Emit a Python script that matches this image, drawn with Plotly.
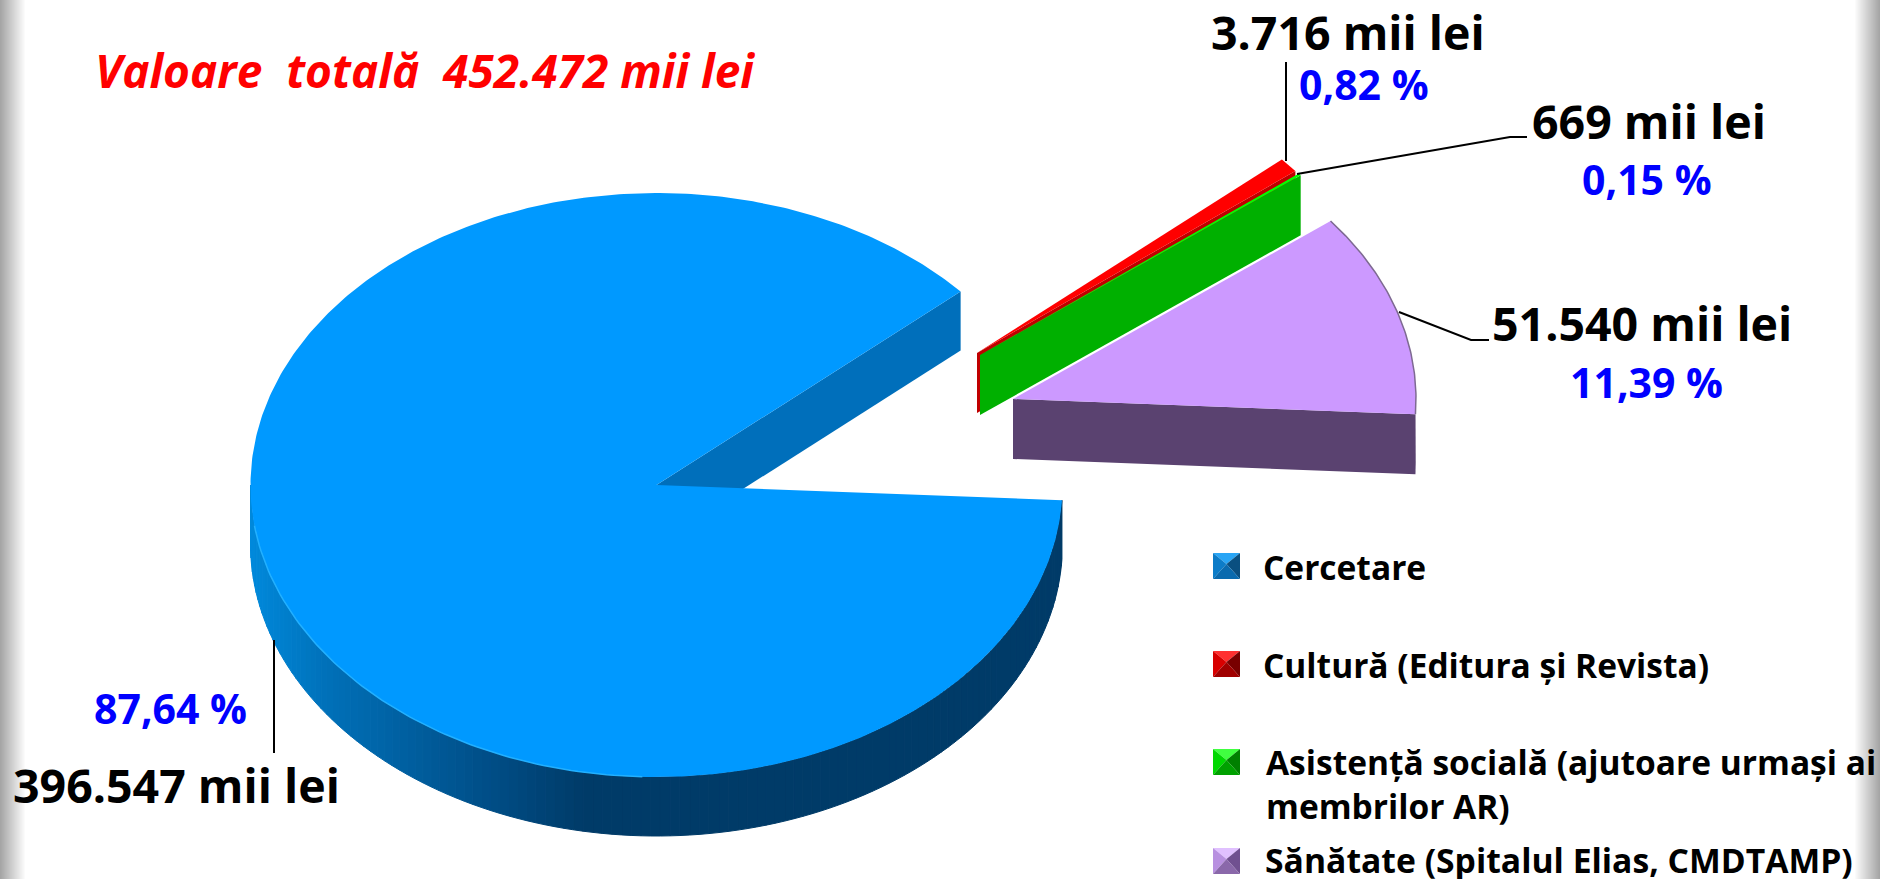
import numpy as np
import plotly.graph_objects as go

# --- data ---
categories = ["Cercetare", "Cultură (Editura și Revista)",
              "Asistență socială (ajutoare urmași ai<br>membrilor AR)",
              "Sănătate (Spitalul Elias, CMDTAMP)"]
values = [396547, 3716, 669, 51540]
percent_labels = ["87,64 %", "0,82 %", "0,15 %", "11,39 %"]
title_text = "Valoare\u00a0 totală\u00a0 452.472 mii lei"

# --- styling / layout ---
W, H = 1880, 879
top_colors = ["#0099FF", "#FF0000", "#00FF00", "#CC99FF"]
wall_colors = ["#006FBB", "#C00000", "#00B000", "#5A4270"]
marker_faces = [("#29A5F5", "#0C7CC8", "#0A4F80", "#0A6AAE"),
                ("#FF3030", "#D80000", "#780000", "#A00000"),
                ("#40FF40", "#00D800", "#008000", "#00A000"),
                ("#E0C0FF", "#B890E0", "#705090", "#8A68AA")]
# centre x, centre y, x radius, y radius, depth of each exploded slice
centres = [(656.5, 485, 406, 292, 59), (977, 353, 407, 292, 60), (980, 355, 407, 292, 60), (1013, 399, 403, 289, 60)]
START = 93.0
FONT = "Open Sans"

grad_stops = [(250, (0, 138, 220)), (330, (0, 112, 184)), (480, (0, 80, 138)),
              (585, (0, 59, 104)), (1070, (0, 59, 104))]

fracs = np.array(values) / sum(values)
sweeps = fracs * 360.0
starts = START + np.concatenate(([0], np.cumsum(sweeps)[:-1]))
ends = starts + sweeps


def pt(c, theta):
    t = np.radians(theta)
    return c[0] + c[2] * np.sin(t), c[1] - c[3] * np.cos(t)


fig = go.Figure()


def poly(xs, ys, color, name, lw=0, lc=None):
    fig.add_trace(go.Scatter(x=list(xs), y=list(ys), mode="lines", fill="toself",
                             fillcolor=color, name=name, hoverinfo="name",
                             line=dict(color=lc or color, width=lw), showlegend=False))


def arc(c, t0, t1, n):
    x, y = pt(c, np.linspace(t0, t1, n))
    return x, y


def radial_wall(c, theta, color, name):
    ex, ey = pt(c, theta)
    poly([c[0], ex, ex, c[0], c[0]],
         [c[1], ey, ey + c[4], c[1] + c[4], c[1]], color, name)


def top_face(c, t0, t1, color, name, n=240, lw=0, lc=None):
    x, y = arc(c, t0, t1, n)
    poly(np.r_[c[0], x, c[0]], np.r_[c[1], y, c[1]], color, name, lw, lc)


def grad_color(x):
    xs = [s[0] for s in grad_stops]
    rgb = [np.interp(x, xs, [s[1][i] for s in grad_stops]) for i in range(3)]
    return "rgb(%d,%d,%d)" % tuple(int(v) for v in rgb)


# main slice
c = centres[0]
# curved outer wall with a horizontal gradient, built of short segments
wall_t = np.linspace(starts[0], 270.0, 130)
for t0, t1 in zip(wall_t[:-1], wall_t[1:]):
    x0, y0 = pt(c, t0)
    x1, y1 = pt(c, t1)
    col = grad_color((x0 + x1) / 2)
    poly([x0, x1, x1, x0, x0], [y0, y1, y1 + c[4], y0 + c[4], y0], col, categories[0], 1, col)
radial_wall(c, ends[0], wall_colors[0], categories[0])
top_face(c, starts[0], ends[0], top_colors[0], categories[0], n=500)
# bright rim on the lower left of the main slice
hx, hy = arc(c, 182, 262, 80)
fig.add_trace(go.Scatter(x=hx, y=hy, mode="lines", line=dict(color="#22B0FF", width=1.5),
                         hoverinfo="skip", showlegend=False))

# small slices, furthest first
radial_wall(centres[1], ends[1], wall_colors[1], categories[1])
top_face(centres[1], starts[1], ends[1], top_colors[1], categories[1], n=12)
radial_wall(centres[2], ends[2], wall_colors[2], categories[2])
top_face(centres[2], starts[2], ends[2], top_colors[2], categories[2], n=6)

# purple slice: ends[3] is the front radial edge, one full turn after START
c = centres[3]
radial_wall(c, ends[3], wall_colors[3], categories[3])
x, y = arc(c, 90, START, 8)
poly(np.r_[x, x[::-1], x[0]], np.r_[y, y[::-1] + c[4], y[0]], wall_colors[3], categories[3])
top_face(c, starts[3], ends[3], top_colors[3], categories[3], n=80)
x, y = arc(c, starts[3], ends[3], 80)
fig.add_trace(go.Scatter(x=x, y=y, mode="lines", line=dict(color="#7E6A92", width=1.5),
                         hoverinfo="skip", showlegend=False))

# leader lines
leaders = [([274, 274], [640, 753]),
           ([1286, 1286], [62, 161]),
           ([1297, 1510, 1527], [174, 137, 137]),
           ([1399, 1471, 1489], [312, 340, 340])]
for lx, ly in leaders:
    fig.add_trace(go.Scatter(x=lx, y=ly, mode="lines", line=dict(color="#000000", width=2),
                             hoverinfo="skip", showlegend=False))

# legend swatches (pyramid style)
swatches = [(1213, 553), (1213, 651), (1213, 749), (1213, 848)]
SW, SH = 27, 26
for (sx, sy), faces, cat in zip(swatches, marker_faces, categories):
    ax, ay = sx + SW * 0.5, sy + SH * 0.42
    tl, tr, br, bl = (sx, sy), (sx + SW, sy), (sx + SW, sy + SH), (sx, sy + SH)
    for (p, q), col in zip([(tl, tr), (tl, bl), (tr, br), (bl, br)], faces):
        poly([p[0], q[0], ax, p[0]], [p[1], q[1], ay, p[1]], col, cat)


def text(s, x, y, size, color="#000000", anchor="left", style="normal"):
    fig.add_annotation(x=x, y=y, text=f"<b>{s}</b>", showarrow=False, xanchor=anchor, yanchor="middle",
                       align="left", font=dict(family=FONT, size=size, color=color, style=style))


amount = [f"{v:,}".replace(",", ".") + " mii lei" for v in values]
text(title_text, 93, 70, 46, "#FF0000", style="italic")
text(amount[0], 11, 785, 46.5)
text(percent_labels[0], 92, 708, 41, "#0000FF")
text(amount[1], 1209, 32, 46.5)
text(percent_labels[1], 1297, 84, 41, "#0000FF")
text(amount[2], 1530, 121, 46.5)
text(percent_labels[2], 1580, 179, 41, "#0000FF")
text(amount[3], 1490, 323, 46.5)
text(percent_labels[3], 1568, 382, 41, "#0000FF")

text(categories[0], 1261, 567, 33.5)
text(categories[1], 1261, 665, 33.5)
text(categories[2], 1264, 784, 33.5)
text(categories[3], 1263, 860, 33.7)

# grey page-edge fades
shapes = []
for i in range(26):
    g = int(165 + (255 - 165) * (i / 25))
    shapes.append(dict(type="rect", xref="x", yref="y", x0=i, x1=i + 1, y0=0, y1=H, layer="below",
                       line=dict(width=0), fillcolor=f"rgb({g},{g},{g})"))
    shapes.append(dict(type="rect", xref="x", yref="y", x0=W - i - 1, x1=W - i, y0=0, y1=H, layer="below",
                       line=dict(width=0), fillcolor=f"rgb({g},{g},{g})"))

fig.update_layout(width=W, height=H, margin=dict(l=0, r=0, t=0, b=0), paper_bgcolor="#FFFFFF",
                  plot_bgcolor="#FFFFFF", showlegend=False, shapes=shapes,
                  xaxis=dict(range=[0, W], visible=False, fixedrange=True),
                  yaxis=dict(range=[H, 0], visible=False, fixedrange=True))
fig.write_html("out.html", config={"displayModeBar": False}, default_width=W, default_height=H,
               post_script="document.body.style.margin='0';document.documentElement.style.overflow='hidden';")
